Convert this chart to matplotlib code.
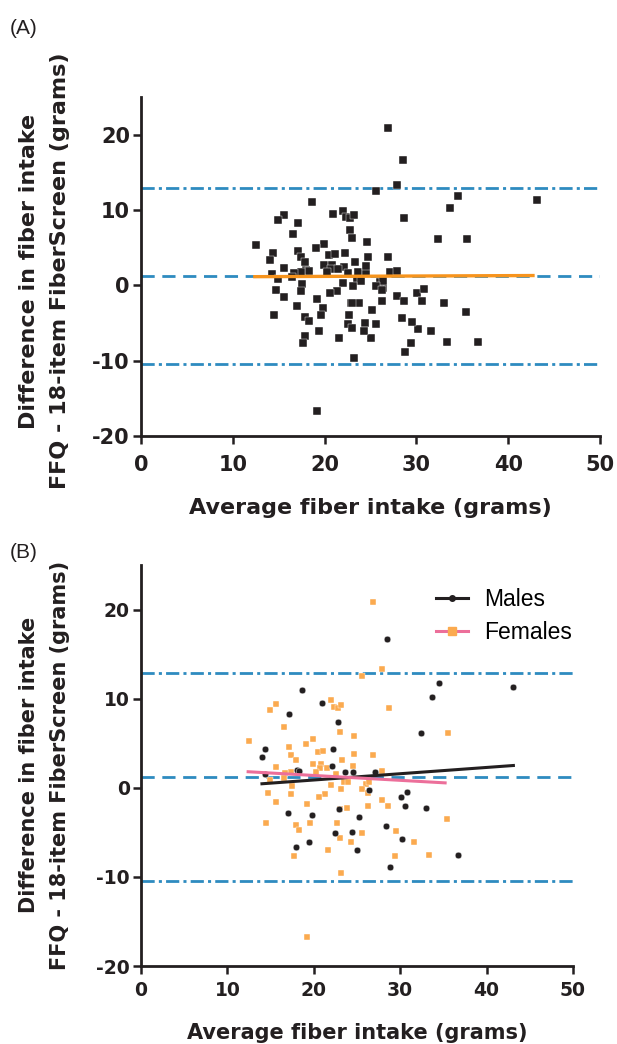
import matplotlib
matplotlib.use("Agg")
import matplotlib.pyplot as plt
from matplotlib.lines import Line2D
import numpy as np

plt.rcParams['axes.unicode_minus'] = False
plt.rcParams['lines.scale_dashes'] = False
plt.rcParams['font.family'] = ['DejaVu Sans']

# ---------------- data ----------------
males_x = [28.5, 34.5, 33.7, 18.6, 20.9, 17.1, 22.8, 43.1, 32.4, 14.4, 22.2, 14.0,
           22.1, 18.0, 18.3, 23.6, 24.5, 27.1, 14.3, 26.4, 30.1, 30.8, 30.6, 33.0,
           22.9, 17.0, 19.8, 25.2, 28.4, 22.5, 24.4, 30.2, 17.9, 19.4, 25.0, 36.7, 28.8]
males_y = [16.7, 11.8, 10.2, 11.0, 9.5, 8.3, 7.4, 11.3, 6.2, 4.3, 4.3, 3.4,
           2.4, 2.0, 1.9, 1.8, 1.8, 1.8, 1.5, -0.3, -1.0, -0.5, -2.1, -2.3,
           -2.4, -2.8, -3.0, -3.3, -4.3, -5.1, -5.0, -5.8, -6.7, -6.1, -7.0, -7.5, -8.9]

females_x = [26.9, 27.9, 25.6, 15.6, 14.9, 22.0, 22.3, 22.8, 23.2, 28.7, 35.5, 16.6,
             23.0, 24.6, 12.5, 19.9, 19.1, 17.1, 20.5, 21.1, 24.7, 26.9, 17.4, 17.9,
             23.3, 19.9, 20.8, 24.5, 15.6, 20.7, 21.5, 17.4, 20.3, 22.6, 27.9, 16.7,
             16.5, 14.9, 23.5, 24.0, 22.0, 17.5, 26.0, 26.4, 23.1, 25.6, 26.3, 14.7,
             17.4, 21.3, 20.6, 15.6, 19.2, 27.9, 28.6, 26.3, 23.8, 23.0, 35.4, 14.5,
             17.9, 18.3, 19.6, 22.7, 29.5, 25.6, 23.0, 24.3, 31.6, 21.6, 17.7, 29.4,
             33.3, 23.2, 19.2]
females_y = [20.9, 13.3, 12.5, 9.4, 8.7, 9.9, 9.1, 9.0, 9.3, 8.9, 6.2, 6.8,
             6.3, 5.8, 5.3, 5.5, 4.9, 4.6, 4.0, 4.1, 3.8, 3.7, 3.7, 3.1,
             3.1, 2.7, 2.7, 2.5, 2.3, 2.2, 2.2, 1.8, 1.8, 1.6, 1.9, 1.7,
             1.1, 0.9, 0.7, 0.6, 0.3, 0.15, 0.4, 0.6, -0.1, -0.1, -0.6, -0.6,
             -0.7, -0.7, -1.0, -1.6, -1.8, -1.4, -2.1, -2.1, -2.3, -2.4, -3.5, -3.9,
             -4.2, -4.7, -3.9, -3.9, -4.9, -5.1, -5.6, -6.1, -6.1, -7.0, -7.6, -7.7,
             -7.5, -9.6, -16.7]

# Bland-Altman reference levels: upper LoA, mean bias, lower LoA
loa_upper = 12.9
bias = 1.2
loa_lower = -10.5

# fitted trend lines (end points)
all_fit_x = [12.4, 42.7]
all_fit_y = [1.15, 1.3]
males_fit_x = [14.0, 43.1]
males_fit_y = [0.45, 2.5]
females_fit_x = [12.4, 35.2]
females_fit_y = [1.8, 0.55]

x_ticks = [0, 10, 20, 30, 40, 50]
y_ticks = [-20, -10, 0, 10, 20]

xlabel = "Average fiber intake (grams)"
ylabel1 = "Difference in fiber intake"
ylabel2 = "FFQ - 18-item FiberScreen (grams)"

# ---------------- style ----------------
BLUE = '#2E8BC0'
BLACK = '#231F20'
ORANGE_LINE = '#F7941D'
ORANGE_PT = '#FBAA4F'
PINK = '#EC6F9A'
W, H = 617, 1044

fig = plt.figure(figsize=(W / 100, H / 100), dpi=100)


def px_axes(left, top, right, bottom):
    return fig.add_axes([left / W, 1 - bottom / H, (right - left) / W, (bottom - top) / H])


def style_axes(ax, top, bottom, tick_fs, label_fs, xpad, xlabel_y, ylabel_c):
    for s in ['top', 'right']:
        ax.spines[s].set_visible(False)
    for s in ['left', 'bottom']:
        ax.spines[s].set_linewidth(2.0)
        ax.spines[s].set_color(BLACK)
    ax.set_xlim(0, 50)
    ax.set_ylim(-20, 25)
    ax.set_xticks(x_ticks)
    ax.set_yticks(y_ticks)
    ax.tick_params(direction='out', length=6, width=1.8, color=BLACK,
                   labelsize=tick_fs, labelcolor=BLACK)
    ax.tick_params(axis='x', pad=xpad)
    ax.tick_params(axis='y', pad=2)
    for lab in ax.get_xticklabels() + ax.get_yticklabels():
        lab.set_fontweight('bold')
    ax.set_xlabel(xlabel, fontsize=label_fs, fontweight='bold', color=BLACK)
    ax.xaxis.label.set_verticalalignment('center')
    ax.xaxis.set_label_coords(0.5, (bottom - xlabel_y) / (bottom - top))
    # y labels (two centred lines)
    yc = 1 - ylabel_c / H
    fig.text(29 / W, yc, ylabel1, rotation=90, ha='center', va='center',
             fontsize=label_fs, fontweight='bold', color=BLACK)
    fig.text(60 / W, yc, ylabel2, rotation=90, ha='center', va='center',
             fontsize=label_fs, fontweight='bold', color=BLACK)


def ref_lines(ax):
    ax.axhline(loa_upper, color=BLUE, lw=2.0, ls=(0, (9.5, 3, 2.2, 3)), zorder=1)
    ax.axhline(bias, color=BLUE, lw=2.0, ls=(0, (9.5, 5.5)), zorder=1)
    ax.axhline(loa_lower, color=BLUE, lw=2.0, ls=(0, (9.5, 3, 2.2, 3)), zorder=1)


# ---------------- panel A ----------------
axA = px_axes(141, 97, 600, 436)
style_axes(axA, 97, 436, tick_fs=15, label_fs=16, xpad=8, xlabel_y=508, ylabel_c=271)
ref_lines(axA)
all_x = males_x + females_x
all_y = males_y + females_y
axA.plot(all_x, all_y, ls='none', marker='s', ms=5.4, color=BLACK, mec='white',
         mew=0.3, zorder=3)
axA.plot(all_fit_x, all_fit_y, color=ORANGE_LINE, lw=2.4, zorder=4)
fig.text(10 / W, 1 - 28 / H, "(A)", fontsize=15, family='Liberation Sans',
         ha='left', va='center', color=BLACK)

# ---------------- panel B ----------------
axB = px_axes(141, 565, 573, 966)
style_axes(axB, 565, 966, tick_fs=13.5, label_fs=15, xpad=5, xlabel_y=1033, ylabel_c=765)
ref_lines(axB)
axB.plot(females_x, females_y, ls='none', marker='s', ms=4.8, color=ORANGE_PT,
         mec='white', mew=0.3, zorder=3)
axB.plot(males_x, males_y, ls='none', marker='o', ms=4.8, color=BLACK,
         mec='white', mew=0.3, zorder=3)
axB.plot(males_fit_x, males_fit_y, color=BLACK, lw=2.2, zorder=4)
axB.plot(females_fit_x, females_fit_y, color=PINK, lw=2.2, zorder=4)
fig.text(10 / W, 1 - 552 / H, "(B)", fontsize=15, family='Liberation Sans',
         ha='left', va='center', color=BLACK)

handles = [
    Line2D([], [], color=BLACK, lw=2.2, marker='o', ms=4, mfc=BLACK, mec=BLACK),
    Line2D([], [], color=PINK, lw=2.2, marker='s', ms=6, mfc=ORANGE_PT, mec=ORANGE_PT),
]
leg = axB.legend(handles, ["Males", "Females"], loc='upper left',
                 bbox_to_anchor=((436 - 141) / 432, 1 - (588 - 565) / 401),
                 frameon=False, handlelength=1.4, handletextpad=0.7,
                 labelspacing=0.45, borderaxespad=0, borderpad=0,
                 prop={'family': 'Liberation Sans', 'size': 16.5})

fig.savefig("out.png", dpi=100)
